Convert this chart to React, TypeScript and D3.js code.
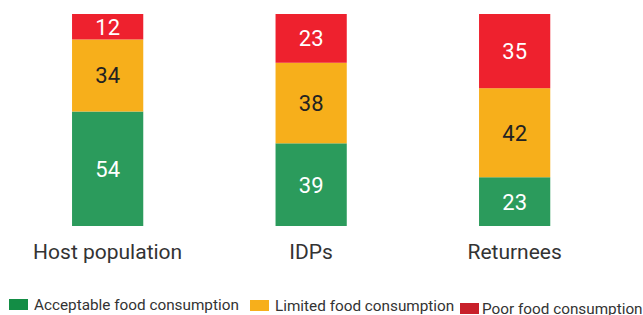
import React from "react";
import * as d3 from "d3";

const categories = ["Host population", "IDPs", "Returnees"];
const seriesNames = ["Acceptable food consumption", "Limited food consumption", "Poor food consumption"];
const acceptable = [54, 39, 23];
const limited = [34, 38, 42];
const poor = [12, 23, 35];

const barColors = ["#2B9B5C", "#F7AF1B", "#EE212E"];
const legendColors = ["#138D45", "#F7AF1B", "#C8202A"];
const labelColors = ["#ffffff", "#222222", "#ffffff"];

const W = 643;
const H = 315;

export default function App() {
  const x = d3
    .scaleBand<string>()
    .domain(categories)
    .range([5.9, 616.4])
    .paddingInner(0.65)
    .paddingOuter(0.325);
  const y = d3.scaleLinear().domain([0, 100]).range([226, 14]);

  const rows = categories.map((c, i) => ({
    cat: c,
    acceptable: acceptable[i],
    limited: limited[i],
    poor: poor[i],
  }));
  const stack = d3.stack<any>().keys(["acceptable", "limited", "poor"]);
  const series = stack(rows);

  const legendX = [9, 250, 460];
  const legendY = [299, 300, 303];

  return (
    <svg
      width={W}
      height={H}
      style={{ position: "absolute", left: 0, top: 0, fontFamily: "Roboto, sans-serif" }}
    >
      <rect width={W} height={H} fill="#ffffff" />
      {series.map((s, si) => (
        <g key={si}>
          {s.map((d, i) => {
            const cat = categories[i];
            const x0 = x(cat)!;
            const y0 = y(d[1]);
            const y1 = y(d[0]);
            return (
              <g key={i}>
                <rect x={x0} y={y0} width={x.bandwidth()} height={y1 - y0} fill={barColors[si]} />
                <text
                  x={x0 + x.bandwidth() / 2}
                  y={(y0 + y1) / 2}
                  dy="0.36em"
                  textAnchor="middle"
                  fontSize={22}
                  fill={labelColors[si]}
                >
                  {d[1] - d[0]}
                </text>
              </g>
            );
          })}
        </g>
      ))}
      {categories.map((c) => (
        <text
          key={c}
          x={x(c)! + x.bandwidth() / 2}
          y={259}
          textAnchor="middle"
          fontSize={21}
          fill="#333333"
        >
          {c}
        </text>
      ))}
      {seriesNames.map((n, i) => (
        <g key={n}>
          <rect x={legendX[i]} y={legendY[i]} width={19} height={11} fill={legendColors[i]} />
          <text x={legendX[i] + 25 - (i === 2 ? 3 : 0)} y={legendY[i] + 11} fontSize={15.3} fill="#333333">
            {n}
          </text>
        </g>
      ))}
    </svg>
  );
}
